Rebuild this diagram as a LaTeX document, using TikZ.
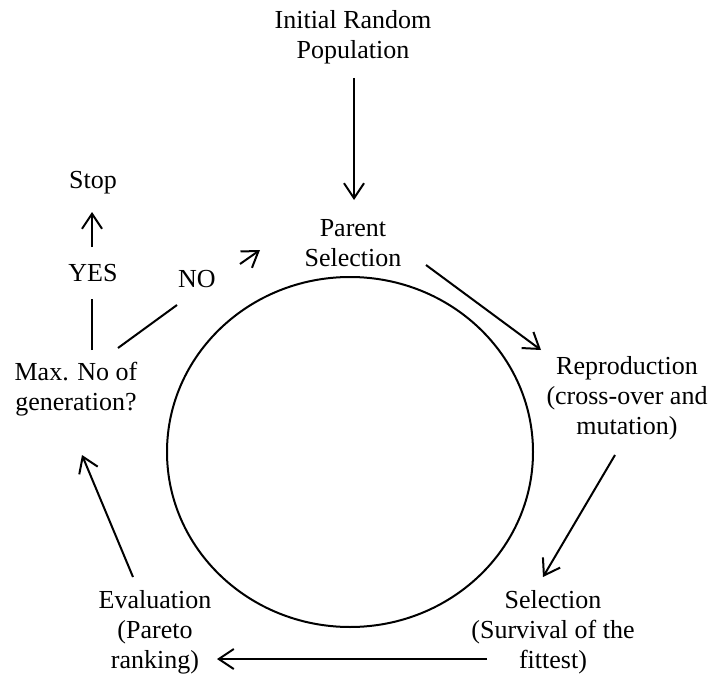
\documentclass[tikz,border=0pt]{standalone}
\usepackage{fontspec}
\setmainfont{Liberation Serif}
\usetikzlibrary{arrows.meta,calc,shapes.geometric}
\begin{document}
\begin{tikzpicture}[x=1pt,y=-1pt,
  lbl/.style={align=center,inner sep=0pt,font=\fontsize{26}{30}\selectfont},
  arr/.style={line width=2pt,-{Straight Barb[length=15pt,width=20pt,line width=2pt]}},
  ln/.style={line width=2pt}]
\useasboundingbox (0,0) rectangle (713,677);
\node[lbl] (init) at (353,37) {Initial Random\\Population};
\node[lbl] (parent) at (353,243) {Parent\\Selection};
\node[lbl] (repro) at (627,398) {Reproduction\\(cross-over and\\mutation)};
\node[lbl] (sel) at (553,632) {Selection\\(Survival of the\\fittest)};
\node[lbl] (eval) at (155,632) {Evaluation\\(Pareto\\ranking)};
\node[lbl] (max) at (76,389) {Max. No of\\generation?};
\node[lbl] (yes) at (93,273) {YES};
\node[lbl] (stop) at (93,183) {Stop};
\node[lbl] (no) at (197,279) {NO};
\node[draw,line width=2pt,ellipse,inner sep=0pt,minimum width=366,minimum height=350] (cyc) at (350,452) {};
\draw[arr] ($(init)+(1,41)$) -- ($(parent)+(1,-43)$);
\draw[arr] ($(parent)+(73,22)$) -- ($(repro)+(-86,-48)$);
\draw[arr] ($(repro)+(-12,57)$) -- ($(sel)+(-10,-55)$);
\draw[arr] ($(sel)+(-66,27)$) -- ($(eval)+(62,27)$);
\draw[arr] ($(eval)+(-22,-55)$) -- ($(max)+(6,66)$);
\draw[ln] ($(max)+(16,-39)$) -- ($(yes)+(-1,26)$);
\draw[arr] ($(yes)+(-1,-26)$) -- ($(stop)+(-1,29)$);
\draw[ln] ($(max)+(42,-41)$) -- ($(no)+(-20,26)$);
\draw[arr] ($(no)+(43,-15)$) -- ($(parent)+(-93,7)$);
\end{tikzpicture}
\end{document}
